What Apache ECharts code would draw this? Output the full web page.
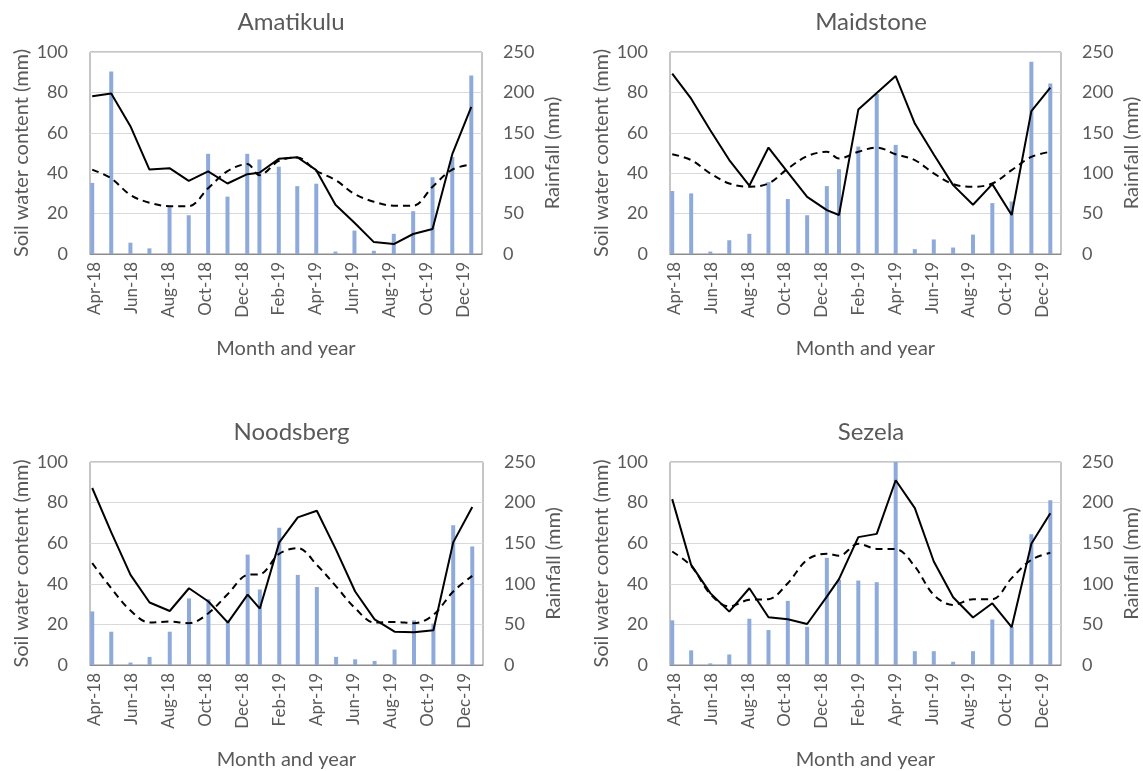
<!DOCTYPE html>
<html>
<head>
<meta charset="utf-8">
<title>Soil water content and rainfall</title>
<script src="https://cdn.jsdelivr.net/npm/echarts@6/dist/echarts.min.js"></script>
<style>
  html, body { margin: 0; padding: 0; background: #fff; }
  #chart { width: 1143px; height: 771px; }
</style>
</head>
<body>
<div id="chart"></div>
<script>
// Sampling positions, in months after 1 April 2018 (shared by all four sites)
const sampleMonths = [-0.12, 0.91, 1.95, 2.98, 4.07, 5.11, 6.16, 7.21, 8.28, 8.94, 9.99,
                      10.99, 12.02, 13.06, 14.09, 15.14, 16.22, 17.27, 18.32, 19.39, 20.42];

// Month labels, one every two months starting at month 0
const tickLabels = ['Apr-18', 'Jun-18', 'Aug-18', 'Oct-18', 'Dec-18', 'Feb-19',
                    'Apr-19', 'Jun-19', 'Aug-19', 'Oct-19', 'Dec-19'];

const sites = ['Amatikulu', 'Maidstone', 'Noodsberg', 'Sezela'];

// Monthly rainfall (mm)
const rainAmatikulu = [88, 226, 14, 7, 58, 48, 124, 71, 124, 117, 108, 84, 87, 3, 29, 4, 25, 53, 95, 120, 221];
const rainMaidstone = [78, 75, 3, 17, 25, 89, 68, 48, 84, 105, 133, 198, 135, 6, 18, 8, 24, 63, 65, 238, 211];
const rainNoodsberg = [66, 41, 3, 10, 41, 82, 81, 55, 136, 93, 169, 111, 96, 10, 7, 5, 19, 55, 51, 172, 146];
const rainSezela    = [55, 18, 2, 13, 57, 43, 79, 47, 132, 105, 104, 102, 250, 17, 17, 4, 17, 56, 47, 161, 203];

// Soil water content (mm), solid line
const swcAmatikulu = [78.1, 79.4, 63.3, 41.8, 42.5, 36.2, 40.9, 34.9, 39.5, 40.2, 47.1, 47.9, 41.5, 24.4, 15.5, 5.9, 4.9, 9.9, 12.4, 49.4, 72.8];
const swcMaidstone = [89.3, 76.9, 61.3, 46.5, 33.8, 52.7, 40.4, 28.3, 21.7, 19.3, 71.5, 79.7, 88.1, 64.6, 49.3, 34.1, 24.4, 34.6, 19.3, 70.7, 82.4];
const swcNoodsberg = [87.2, 65.3, 44.4, 30.8, 26.6, 37.8, 31.3, 20.9, 34.7, 27.8, 60.4, 72.7, 76.0, 56.7, 36.2, 22.5, 16.4, 16.1, 17.1, 60.4, 77.8];
const swcSezela    = [81.7, 49.3, 35.4, 26.3, 37.8, 23.5, 22.5, 20.2, 33.7, 42.3, 63.0, 64.6, 91.0, 77.3, 51.0, 33.4, 23.4, 30.4, 18.6, 59.7, 74.8];

// Soil water content (mm), dashed line
const swc2Amatikulu = [41.8, 37.4, 29.2, 25.4, 23.7, 23.7, 32.5, 41.0, 44.5, 39.0, 46.1, 47.8, 41.2, 36.6, 29.7, 25.9, 23.9, 23.9, 33.3, 41.8, 44.3];
const swc2Maidstone = [49.4, 46.5, 39.9, 34.9, 33.3, 34.9, 42.3, 48.4, 50.6, 47.3, 50.6, 52.7, 49.4, 46.5, 39.9, 34.6, 33.3, 34.9, 41.5, 48.1, 50.6];
const swc2Noodsberg = [50.2, 37.8, 26.8, 20.9, 21.4, 20.6, 25.5, 35.0, 44.4, 44.7, 54.8, 57.6, 49.3, 38.7, 28.0, 20.9, 21.2, 20.6, 24.7, 36.2, 43.9];
const swc2Sezela    = [55.9, 48.8, 35.0, 28.8, 32.1, 32.4, 40.3, 51.8, 54.8, 53.8, 59.7, 57.2, 57.1, 48.5, 34.5, 29.6, 32.4, 32.4, 42.8, 51.8, 55.3];

const rainfall = [rainAmatikulu, rainMaidstone, rainNoodsberg, rainSezela];
const soilWater = [swcAmatikulu, swcMaidstone, swcNoodsberg, swcSezela];
const soilWater2 = [swc2Amatikulu, swc2Maidstone, swc2Noodsberg, swc2Sezela];

const FONT = 'Lato, "Open Sans", sans-serif';
const TEXT = '#595959';

// Panel plot areas (left, top, width, height)
const panels = [
  { left: 90,  top: 52,  width: 392, height: 202 },
  { left: 670, top: 52,  width: 392, height: 202 },
  { left: 90,  top: 462, width: 393, height: 203 },
  { left: 670, top: 462, width: 392, height: 203 }
];

const pairs = (ys) => ys.map((y, i) => [sampleMonths[i], y]);

const option = {
  animation: false,
  backgroundColor: '#ffffff',
  textStyle: { fontFamily: FONT },
  title: [],
  grid: [],
  xAxis: [],
  yAxis: [],
  series: []
};

panels.forEach((p, k) => {
  option.title.push({
    text: sites[k],
    left: p.left + p.width / 2,
    top: p.top - 47,
    textAlign: 'center',
    textStyle: { fontFamily: FONT, fontSize: 24, fontWeight: 'normal', color: TEXT }
  });
  option.grid.push({
    left: p.left, top: p.top, width: p.width, height: p.height,
    show: true, borderColor: '#8c8c8c', borderWidth: 1, backgroundColor: 'transparent'
  });
  option.xAxis.push({
    type: 'value',
    gridIndex: k,
    min: -0.24,
    max: 21.0,
    name: 'Month and year',
    nameLocation: 'middle',
    nameGap: 85,
    nameTextStyle: { fontFamily: FONT, fontSize: 20, color: TEXT },
    axisLine: { show: true, lineStyle: { color: '#8c8c8c' } },
    axisTick: { show: false },
    splitLine: { show: false },
    axisLabel: {
      customValues: tickLabels.map((_, i) => i * 2),
      rotate: 90,
      margin: 8,
      fontFamily: FONT,
      fontSize: 17,
      color: TEXT,
      formatter: (v) => tickLabels[Math.round(v / 2)]
    }
  });
  option.yAxis.push({
    type: 'value',
    gridIndex: k,
    min: 0, max: 100, interval: 20,
    name: 'Soil water content (mm)',
    nameLocation: 'middle',
    nameGap: 58,
    nameTextStyle: { fontFamily: FONT, fontSize: 20, color: TEXT },
    axisLine: { show: false },
    axisTick: { show: false },
    splitLine: { show: true, lineStyle: { color: '#d9d9d9', width: 1 } },
    axisLabel: { margin: 22, fontFamily: FONT, fontSize: 18, color: TEXT }
  });
  option.yAxis.push({
    type: 'value',
    gridIndex: k,
    position: 'right',
    min: 0, max: 250, interval: 50,
    name: 'Rainfall (mm)',
    nameLocation: 'middle',
    nameGap: 61,
    nameTextStyle: { fontFamily: FONT, fontSize: 20, color: TEXT },
    axisLine: { show: false },
    axisTick: { show: false },
    splitLine: { show: false },
    axisLabel: { margin: 21, fontFamily: FONT, fontSize: 18, color: TEXT }
  });
  option.series.push({
    type: 'bar',
    name: 'Rainfall',
    xAxisIndex: k,
    yAxisIndex: 2 * k + 1,
    barWidth: 4,
    itemStyle: { color: '#8eaadb' },
    z: 1,
    data: pairs(rainfall[k])
  });
  option.series.push({
    type: 'line',
    name: 'Soil water content',
    xAxisIndex: k,
    yAxisIndex: 2 * k,
    symbol: 'none',
    lineStyle: { color: '#000000', width: 2 },
    z: 3,
    data: pairs(soilWater[k])
  });
  option.series.push({
    type: 'line',
    name: 'Soil water content (dashed)',
    xAxisIndex: k,
    yAxisIndex: 2 * k,
    symbol: 'none',
    smooth: 0.35,
    lineStyle: { color: '#000000', width: 2, type: [7, 5] },
    z: 2,
    data: pairs(soilWater2[k])
  });
});

const chart = echarts.init(document.getElementById('chart'), null, { renderer: 'canvas' });
chart.setOption(option);
</script>
</body>
</html>
